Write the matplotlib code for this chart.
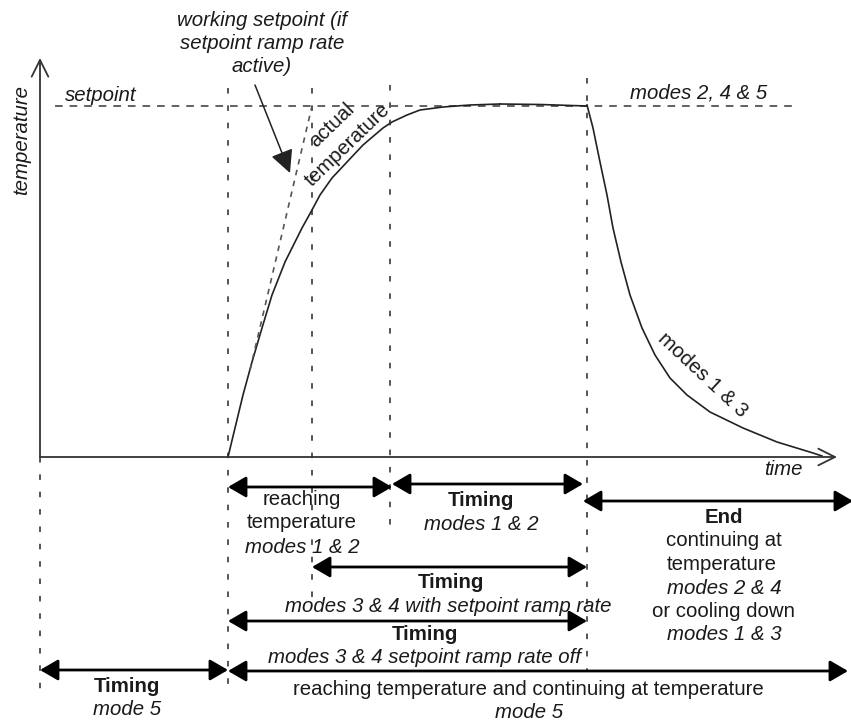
import matplotlib
matplotlib.use("Agg")
import matplotlib.pyplot as plt

plt.rcParams['font.family'] = ['Liberation Sans', 'DejaVu Sans']
plt.rcParams['lines.scale_dashes'] = False

# Diagram drawn in pixel units of the reference (x right, y down)
x_origin, y_origin = 40, 457          # axis origin
x_axis_end, y_axis_end = 837, 58      # arrow tips of the axes
setpoint_y = 106
setpoint_x = [55, 795]

# actual temperature: rise, hold, fall
rise_x = [228, 235, 243, 252, 262, 272, 285, 302, 312, 320, 332, 347, 363, 383, 392, 407, 420, 443, 470, 500]
rise_y = [457, 428, 395, 362, 328, 295, 262, 228, 210, 195, 178, 162, 145, 128, 122, 115, 110, 107, 105, 104]
hold_x = [500, 540, 587]
hold_y = [104, 104.5, 106]
fall_x = [587, 593, 600, 607, 613, 621, 630, 642, 655, 670, 687, 710, 743, 777, 813, 822]
fall_y = [105, 128, 162, 195, 228, 262, 295, 328, 355, 378, 395, 412, 428, 442, 453, 456]

# working setpoint (ramp) line
ramp_x = [250, 312]
ramp_y = [370, 106]

# vertical dashed markers: x, top, bottom
markers_x = [40, 228, 312, 390, 587]
markers_top = [457, 88, 88, 85, 78]
markers_bot = [690, 695, 600, 527, 672]

# double-headed span arrows: x start, x end, y
spans = [(228, 392, 487), (392, 583, 484), (583, 853, 501),
         (312, 587, 567), (228, 587, 621), (40, 228, 670), (228, 848, 671)]

# label lines: text, x centre, baseline, style
labels = [
    ("reaching", 302, 505, 'n'), ("temperature", 302, 528, 'n'), ("modes 1 & 2", 302, 553, 'i'),
    ("Timing", 481, 506, 'b'), ("modes 1 & 2", 481, 530, 'i'),
    ("End", 724, 523, 'b'), ("continuing at", 724, 546, 'n'), ("temperature", 722, 570, 'n'),
    ("modes 2 & 4", 724, 594, 'i'), ("or cooling down", 724, 617, 'n'), ("modes 1 & 3", 724, 640, 'i'),
    ("Timing", 451, 588, 'b'), ("modes 3 & 4 with setpoint ramp rate", 448, 612, 'i'),
    ("Timing", 425, 640, 'b'), ("modes 3 & 4 setpoint ramp rate off", 424, 663, 'i'),
    ("Timing", 127, 692, 'b'), ("mode 5", 127, 715, 'i'),
    ("reaching temperature and continuing at temperature", 528, 695, 'n'), ("mode 5", 529, 718, 'i'),
    ("working setpoint (if", 262, 26, 'i'), ("setpoint ramp rate", 262, 49, 'i'), ("active)", 262, 72, 'i'),
    ("modes 2, 4 & 5", 699, 98, 'i'), ("time", 783, 475, 'i'),
]

fs = 14.7
txt_col = '#1a1a1a'
dash_col = '#555555'

fig = plt.figure(figsize=(8.51, 7.25), dpi=100)
ax = fig.add_axes([0, 0, 1, 1])
ax.set_xlim(0, 851)
ax.set_ylim(725, 0)
ax.axis('off')

# vertical dashed markers
for x, t, b in zip(markers_x, markers_top, markers_bot):
    ax.plot([x, x], [t, b], color=dash_col, lw=1.4, linestyle=(0, (4.0, 8.5)))

# setpoint line
ax.plot(setpoint_x, [setpoint_y, setpoint_y], color=dash_col, lw=1.3, linestyle=(0, (5.5, 5.0)))

# axes with open arrow heads
axis_props = dict(arrowstyle='->,head_length=0.6,head_width=0.3', mutation_scale=20,
                  lw=1.3, color='#333333', shrinkA=0, shrinkB=0)
ax.annotate('', xy=(x_origin, y_axis_end), xytext=(x_origin, y_origin), arrowprops=axis_props)
ax.annotate('', xy=(x_axis_end, y_origin), xytext=(x_origin, y_origin), arrowprops=axis_props)

# curves
ax.plot(rise_x, rise_y, color='#222222', lw=1.2)
ax.plot(hold_x, hold_y, color='#222222', lw=1.2)
ax.plot(fall_x, fall_y, color='#222222', lw=1.2)
ax.plot(ramp_x, ramp_y, color=dash_col, lw=1.2, linestyle=(0, (4.0, 4.0)))

# pointer from the working setpoint note
ax.annotate('', xy=(290, 173), xytext=(255, 85),
            arrowprops=dict(arrowstyle='-|>,head_length=0.7,head_width=0.35', mutation_scale=20,
                            lw=1.1, color='#222222', shrinkA=0, shrinkB=0))

# span arrows
for x0, x1, y in spans:
    ax.annotate('', xy=(x1, y), xytext=(x0, y), annotation_clip=False,
                arrowprops=dict(arrowstyle='<|-|>,head_length=0.55,head_width=0.32', mutation_scale=20,
                                lw=2.0, color='black', shrinkA=0, shrinkB=0))

# labels
for s, x, y, st in labels:
    ax.text(x, y, s, ha='center', va='baseline', fontsize=fs, color=txt_col,
            fontstyle='italic' if st == 'i' else 'normal',
            fontweight='bold' if st == 'b' else 'normal')

ax.text(65, 101, "setpoint", ha='left', va='baseline', fontsize=fs, color=txt_col, fontstyle='italic')
ax.text(22, 140, "temperature", ha='center', va='center', rotation=90, fontsize=fs,
        color=txt_col, fontstyle='italic')
ax.text(332, 125, "actual", ha='center', va='center', rotation=44, fontsize=fs, color=txt_col)
ax.text(348, 145, "temperature", ha='center', va='center', rotation=44, fontsize=fs, color=txt_col)
ax.text(703, 375, "modes 1 & 3", ha='center', va='center', rotation=-43, fontsize=fs, color=txt_col)

fig.savefig('out.png', dpi=100)
